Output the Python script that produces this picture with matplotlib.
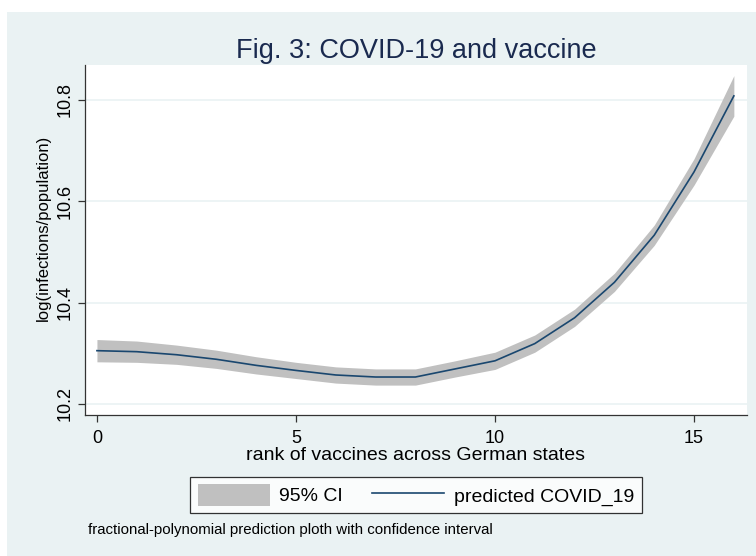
import matplotlib
matplotlib.use("Agg")
import matplotlib.pyplot as plt
from matplotlib.patches import Rectangle
import numpy as np

# fitted values
rank = [0, 1, 2, 3, 4, 5, 6, 7, 8, 9, 10, 11, 12, 13, 14, 15, 16]
pred = [10.305, 10.303, 10.297, 10.288, 10.276, 10.266, 10.257, 10.253, 10.253,
        10.269, 10.285, 10.319, 10.370, 10.440, 10.533, 10.658, 10.808]
ci_low = [10.283, 10.282, 10.278, 10.270, 10.259, 10.250, 10.241, 10.237, 10.237,
          10.253, 10.268, 10.302, 10.353, 10.422, 10.513, 10.632, 10.768]
ci_high = [10.327, 10.324, 10.316, 10.306, 10.293, 10.282, 10.273, 10.269, 10.269,
           10.285, 10.302, 10.336, 10.387, 10.458, 10.553, 10.684, 10.848]

yticks = [10.2, 10.4, 10.6, 10.8]
xticks = [0, 5, 10, 15]

plt.rcParams['font.family'] = ['Liberation Sans', 'DejaVu Sans']

bg = '#eaf2f3'
navy = '#1a476f'
band = '#c0c0c0'

fig = plt.figure(figsize=(7.56, 5.56), dpi=100)
fig.patch.set_facecolor('white')
# Stata-style outer panel
fig.patches.append(Rectangle((7/756, 0), 1, (556-12)/556, transform=fig.transFigure,
                             facecolor=bg, edgecolor='none', zorder=-5))

ax = fig.add_axes([85/756, 1-415/556, (747-85)/756, (415-65)/556])
ax.set_zorder(2)
ax.set_facecolor('white')

ax.fill_between(rank, ci_low, ci_high, color=band, lw=0, label='95% CI', zorder=2)
ax.plot(rank, pred, color=navy, lw=1.2, label='predicted COVID_19', zorder=3)

ax.set_xlim(-0.3, 16.33)
ax.set_ylim(10.178, 10.869)
ax.set_xticks(xticks)
ax.set_yticks(yticks)
ax.set_yticklabels([f'{v:.1f}' for v in yticks], rotation=90, va='center')
ax.grid(axis='y', color=bg, lw=1.2, zorder=1)
ax.set_axisbelow(True)
for s in ['top', 'right']:
    ax.spines[s].set_visible(False)
for s in ['left', 'bottom']:
    ax.spines[s].set_color('#333333')
    ax.spines[s].set_linewidth(0.9)
ax.tick_params(direction='out', length=5, width=0.9, colors='#333333',
               labelcolor='black', labelsize=13)
ax.tick_params(axis='x', pad=6)

ax.set_xlabel('rank of vaccines across German states', fontsize=14, labelpad=0)
ax.set_ylabel('log(infections/population)', fontsize=12)
ax.yaxis.set_label_coords(-0.052, 0.534)
ax.set_title('Fig. 3: COVID-19 and vaccine', fontsize=19.5, color='#1a2a4f', pad=5)

leg = fig.legend(loc='center', bbox_to_anchor=(416/756, 1-495/556), ncol=2,
                 fontsize=14, frameon=True, fancybox=False, edgecolor='black',
                 handlelength=3.7, handleheight=1.3, handletextpad=0.5,
                 columnspacing=1.5, borderpad=0.4, borderaxespad=0)
leg.get_frame().set_linewidth(0.9)
leg.set_zorder(3)

fig.text(88/756, 1-530/556, 'fractional-polynomial prediction ploth with confidence interval',
         fontsize=10.8, va='center')

fig.savefig('out.png', dpi=100, facecolor=fig.get_facecolor())
